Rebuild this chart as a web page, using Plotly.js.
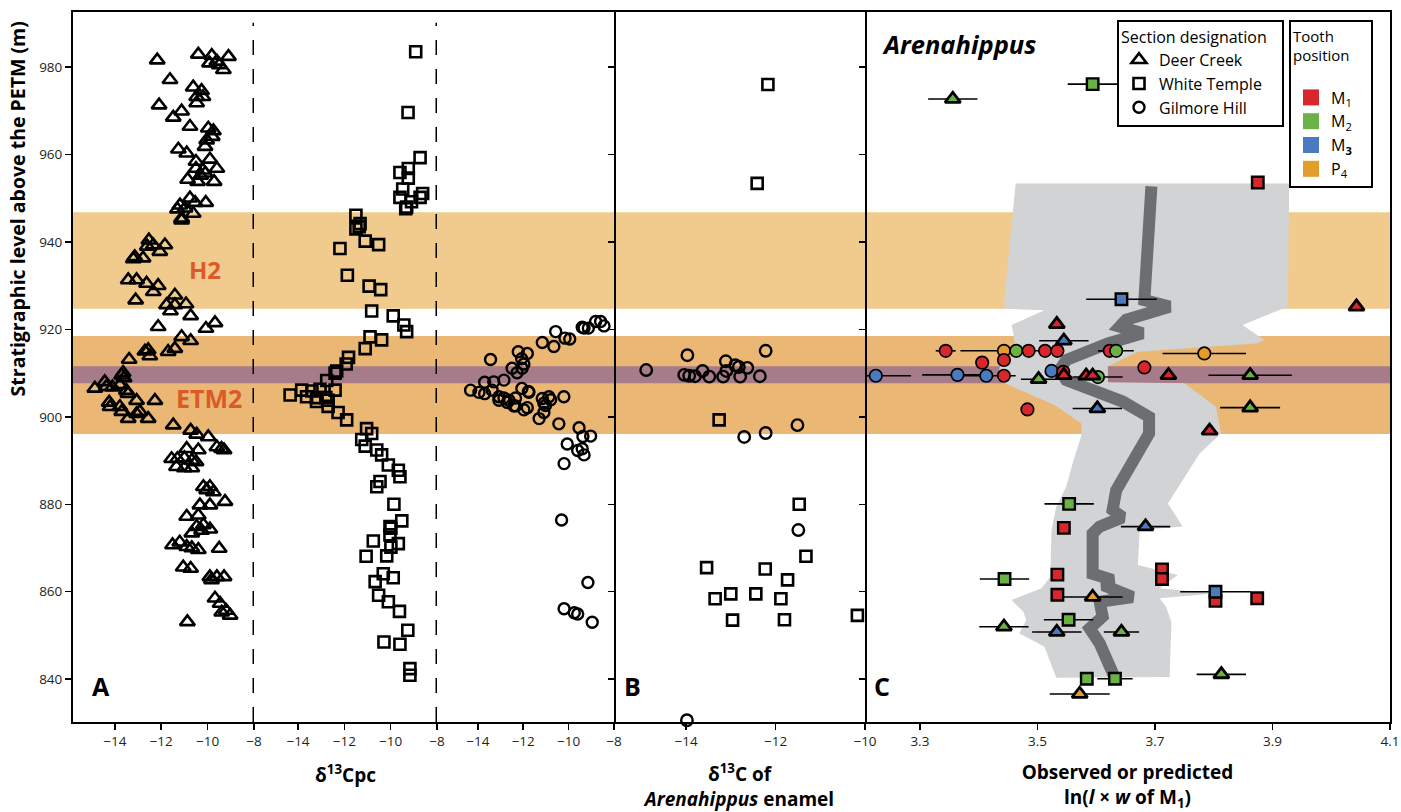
<!DOCTYPE html>
<html><head><meta charset="utf-8">
<script src="https://cdn.plot.ly/plotly-3.0.1.min.js"></script>
<style>html,body{margin:0;padding:0;background:#fff}</style>
</head><body><div id="chart" style="width:1401px;height:812px"></div>
<script>
// ---------- DATA ----------
const yTicks = [840, 860, 880, 900, 920, 940, 960, 980];
const aTicks = [-14, -12, -10, -8];
const bTicks = [-14, -12, -10];
const cTicks = [3.3, 3.5, 3.7, 3.9, 4.1];

// Event bands (m)
const bandNames  = ['H2', 'ETM2', 'ETM2 core'];
const bandBottom = [924.7, 896.1, 907.7];
const bandTop    = [946.8, 918.5, 911.6];

// Panel A: δ13C of paleosol carbonate, Deer Creek (triangles)
const dcX = [-12.17,-10.40,-9.82,-9.92,-9.60,-9.10,-9.32,-9.50,-11.62,-10.62,
  -10.26,-10.47,-10.20,-10.47,-12.09,-11.12,-11.48,-10.76,-9.97,-9.75,
  -9.80,-10.04,-10.11,-11.26,-10.90,-9.90,-10.50,-9.60,-10.50,-10.20,
  -10.10,-10.30,-10.86,-10.43,-9.72,-10.76,-10.54,-10.08,-11.19,-10.97,
  -11.30,-10.62,-11.12,-11.12,-12.53,-12.34,-11.84,-12.60,-12.06,-13.14,
  -12.78,-13.20,-13.42,-13.06,-12.63,-12.13,-12.34,-13.10,-11.41,-11.77,
  -11.41,-11.60,-10.93,-10.73,-12.13,-10.07,-9.68,-11.12,-10.73,-11.41,
  -11.70,-12.56,-12.70,-12.49,-13.38,-13.64,-13.70,-14.43,-14.86,-14.10,
  -13.60,-13.50,-14.36,-13.78,-13.43,-14.24,-13.78,-13.06,-12.27,-14.20,
  -13.42,-12.92,-12.56,-13.70,-13.06,-11.48,-10.73,-10.47,-9.97,-9.60,
  -9.29,-9.40,-10.90,-10.40,-11.55,-11.30,-11.00,-10.68,-10.50,-11.34,
  -11.00,-10.68,-10.18,-9.90,-10.04,-9.75,-9.25,-10.33,-9.90,-10.90,
  -10.40,-10.47,-10.18,-9.90,-10.26,-10.68,-11.51,-11.20,-10.90,-10.68,
  -10.40,-9.50,-11.05,-10.73,-9.90,-9.60,-9.29,-9.83,-9.68,-9.46,
  -9.39,-9.03,-9.20,-10.87];
const dcY = [981.6,982.9,982.6,980.9,981.3,982.4,979.4,980.5,977.1,975.4,
  974.6,973.2,973.2,971.8,971.3,969.9,968.5,966.4,966.0,965.4,
  964.1,963.3,961.8,961.2,960.3,958.9,958.4,956.8,956.8,956.4,
  955.7,955.2,954.3,953.8,953.8,950.0,949.0,949.0,948.4,947.7,
  947.5,946.5,945.4,945.0,940.4,939.3,939.3,939.0,937.8,936.6,
  936.3,936.1,931.3,931.3,930.5,930.0,928.6,926.7,927.8,925.6,
  925.6,924.2,925.8,923.1,920.6,920.2,921.5,918.3,917.4,915.6,
  914.9,915.3,915.0,913.9,913.1,910.1,909.5,908.0,906.5,906.8,
  908.9,906.0,906.9,907.3,905.3,903.3,902.3,903.7,903.7,902.3,
  899.6,901.2,899.6,901.2,900.7,898.1,896.9,896.0,895.4,893.1,
  892.4,892.7,892.7,892.4,890.4,890.4,890.6,890.0,889.7,888.6,
  888.3,888.3,884.0,884.0,883.3,882.8,880.6,879.8,879.8,877.2,
  877.5,874.9,875.3,874.3,874.0,873.4,870.7,871.3,870.3,870.0,
  869.6,869.9,865.6,865.3,863.4,863.4,863.4,862.7,858.5,857.3,
  855.3,854.6,855.7,853.1];

// Panel A: White Temple (squares)
const wtX = [-8.92,-9.25,-8.73,-9.24,-9.60,-9.24,-9.48,-9.60,-8.62,-8.73,
  -9.10,-9.31,-9.35,-11.50,-11.32,-11.36,-11.50,-11.10,-10.52,-12.19,
  -11.87,-10.93,-10.43,-10.82,-9.89,-9.43,-9.31,-10.89,-10.39,-11.10,
  -11.82,-11.92,-12.33,-12.40,-12.76,-13.05,-12.40,-14.34,-13.84,-13.40,
  -13.63,-13.20,-12.80,-13.20,-12.70,-12.70,-12.27,-11.90,-11.04,-10.82,
  -11.25,-11.10,-10.60,-10.39,-10.10,-9.67,-9.60,-10.46,-10.60,-9.86,
  -9.52,-10.03,-9.99,-10.03,-10.75,-9.67,-9.99,-11.06,-10.17,-10.32,
  -9.89,-10.67,-10.52,-10.10,-9.62,-9.26,-10.29,-9.60,-9.17,-9.17];
const wtY = [983.5,969.6,959.3,956.8,955.9,954.6,952.1,950.2,951.1,950.2,
  949.2,948.0,947.6,946.1,944.2,943.5,943.0,940.2,939.4,938.5,
  932.4,929.9,929.1,924.2,923.1,921.0,919.5,918.3,917.6,915.6,
  913.6,912.1,910.5,910.0,908.3,906.3,906.1,905.0,906.1,905.9,
  904.6,904.4,904.4,903.5,903.8,902.4,901.0,899.3,897.3,896.2,
  894.8,893.3,892.4,891.3,889.0,887.8,886.3,885.2,884.0,880.0,
  876.2,874.9,874.5,873.0,871.6,871.0,870.2,868.1,868.2,864.1,
  863.2,862.3,859.2,857.7,855.5,851.2,848.5,848.0,842.4,840.9];

// Panel A: Gilmore Hill (circles)
const ghX = [-8.81,-8.59,-8.44,-9.32,-9.13,-9.40,-10.57,-10.16,-9.95,-11.16,
  -10.65,-12.22,-11.82,-13.44,-12.07,-11.97,-12.05,-12.49,-12.27,-12.85,
  -13.30,-13.70,-14.32,-13.95,-13.37,-12.06,-11.77,-13.07,-12.85,-12.63,
  -12.34,-11.16,-10.87,-10.21,-11.82,-11.02,-12.34,-13.70,-13.07,-12.70,
  -12.41,-11.97,-11.75,-11.09,-10.79,-11.09,-11.30,-10.43,-9.54,-9.03,
  -9.37,-10.06,-9.60,-9.32,-9.40,-10.20,-10.31,-9.15,-10.20,-9.75,
  -9.60,-8.96];
const ghY = [921.8,921.8,920.8,920.3,920.3,920.5,919.5,918.0,917.8,917.0,
  916.1,914.9,914.5,913.1,913.3,912.1,911.1,911.1,910.1,908.4,
  908.0,907.9,906.1,905.6,906.1,906.5,905.8,904.6,904.3,903.8,
  904.3,904.2,904.6,904.6,902.1,902.6,902.5,905.3,903.8,903.3,
  902.5,901.6,905.6,903.1,903.9,901.0,899.6,898.4,897.5,895.6,
  895.5,893.8,892.3,891.3,892.7,889.3,876.4,862.1,856.1,855.2,
  854.9,853.0];

// Panel B: δ13C of Arenahippus enamel
const bSqX = [-12.17,-12.41,-13.26,-11.47,-11.32,-13.54,-12.23,-11.73,-13.35,-13.00,-12.44,-11.88,-12.96,-11.80,-10.17];
const bSqY = [976.0,953.4,899.3,880.0,868.1,865.5,865.2,862.7,858.4,859.5,859.5,858.4,853.5,853.6,854.6];
const bCiX = [-14.89,-13.97,-12.22,-14.04,-13.93,-13.80,-13.63,-13.48,-13.17,-13.11,-13.10,-12.90,-12.82,-12.63,-12.79,-12.35,-12.70,-12.22,-11.51,-11.49,-13.98];
const bCiY = [910.7,914.1,915.1,909.6,909.4,909.3,910.5,909.2,909.2,912.7,910.5,911.8,911.4,911.2,909.2,909.3,895.4,896.3,898.1,874.1,830.6];

// Panel C: ln(l x w of M1), observed
const toothNames = ['M1', 'M2', 'M3', 'P4'];
const toothLabels = ['M<sub>1</sub>', 'M<sub>2</sub>', 'M<sub><b>3</b></sub>', 'P<sub>4</sub>'];
const toothColors = ['#D7262C', '#6AB245', '#4A7BC0', '#E49C2A'];

const cTriX = [3.356,3.533,3.545,3.545,3.502,3.583,3.594,3.602,4.043,3.723,3.862,3.862,3.793,3.684,3.594,3.443,3.533,3.643,3.813,3.572];
const cTriY = [972.7,921.2,917.4,909.5,908.6,909.4,909.4,901.9,925.2,909.5,909.5,902.1,896.8,874.9,858.8,852.0,850.8,850.8,841.1,836.6];
const cTriTooth = ['M2','M1','M3','M1','M2','M1','M1','M3','M1','M1','M2','M2','M1','M3','P4','M2','M3','M2','M2','P4'];
const cTriErr = [0.042,0,0.042,0,0.03,0,0,0.042,0,0,0.071,0.051,0,0.042,0.051,0.042,0.042,0.03,0.042,0.051];

const cSqX = [3.594,3.643,3.875,3.554,3.545,3.444,3.534,3.534,3.712,3.712,3.803,3.803,3.874,3.553,3.584,3.632];
const cSqY = [976.1,926.9,953.6,880.1,874.6,862.9,863.9,859.3,865.1,862.9,857.9,860.0,858.5,853.6,840.1,840.1];
const cSqTooth = ['M2','M3','M1','M2','M1','M2','M1','M1','M1','M1','M1','M3','M1','M2','M2','M2'];
const cSqErr = [0.0425,0.06,0,0.042,0,0.042,0,0,0,0,0,0.06,0,0.042,0,0.03];

const cCiX = [3.344,3.443,3.464,3.485,3.513,3.534,3.623,3.634,3.406,3.443,3.225,3.364,3.413,3.443,3.524,3.544,3.603,3.784,3.682,3.483];
const cCiY = [915.1,915.1,915.1,915.1,915.1,915.1,915.1,915.1,912.4,913.0,909.4,909.6,909.4,909.4,910.5,910.3,909.1,914.5,911.3,901.7];
const cCiTooth = ['M1','P4','M2','M1','M1','M1','M1','M2','M1','M1','M3','M3','M3','M1','M3','M1','M2','P4','M1','M1'];
const cCiErr = [0.017,0.074,0,0,0,0,0.02,0.03,0,0,0.06,0.06,0.05,0,0,0,0.042,0.071,0,0];

// Panel C: predicted envelope (left and right edges, top to bottom) and predicted trend
const envLoX = [3.463,3.444,3.444,3.512,3.456,3.459,3.464,3.436,3.432,3.529,3.575,3.575,3.560,3.549,3.532,3.524,3.522,3.507,3.456,3.476,3.481,3.469,3.512,3.532];
const envLoY = [953.4,927.5,924.7,924.4,921.0,919.1,914.5,911.5,908.4,902.7,898.5,895.8,889.4,884.0,879.4,874.1,863.4,860.8,858.1,855.4,853.5,850.5,847.4,840.3];
const envHiX = [3.9285,3.926,3.914,3.849,3.886,3.872,3.671,3.620,3.620,3.750,3.804,3.8125,3.776,3.722,3.747,3.674,3.671,3.739,3.708,3.801,3.708,3.719,3.728,3.725];
const envHiY = [953.4,925.2,924.4,921.0,917.6,916.8,914.9,911.6,907.9,907.7,902.3,896.2,891.6,880.2,874.9,874.1,866.1,863.8,860.8,859.6,858.5,856.5,853.1,840.5];
const trendX = [3.694,3.682,3.725,3.651,3.640,3.679,3.620,3.572,3.549,3.538,3.549,3.594,3.645,3.690,3.690,3.634,3.628,3.645,3.606,3.594,3.594,3.628,3.612,3.662,3.606,3.611,3.589,3.606,3.631];
const trendY = [952.7,926.7,925.2,922.2,920.6,919.1,916.8,914.5,913.0,910.7,908.4,906.1,903.5,900.0,896.2,883.2,878.7,877.0,874.9,873.3,864.1,862.7,861.5,858.8,857.7,854.3,851.6,848.2,840.5];

// ---------- CHART ----------
const FONT = 'Open Sans, Noto Sans, sans-serif';
const yRange = [830.2, 992.6];
const W = 1317; // plot width px
const dom = (a, b) => [a / W, b / W];
const col = t => toothColors[toothNames.indexOf(t)];

const traces = [];
// predicted envelope
traces.push({type:'scatter', mode:'lines', x: envLoX.concat(envHiX.slice().reverse()), y: envLoY.concat(envHiY.slice().reverse()),
  fill:'toself', fillcolor:'#D1D3D4', line:{width:0, color:'#D1D3D4'}, xaxis:'x5', yaxis:'y', showlegend:false, hoverinfo:'skip'});
traces.push({type:'scatter', mode:'lines', x: trendX, y: trendY, line:{color:'#6D6E71', width:12}, xaxis:'x5', yaxis:'y', showlegend:false, hoverinfo:'skip'});

// panel A
traces.push({type:'scatter', mode:'markers', name:'Deer Creek', x: dcX, y: dcY, xaxis:'x', yaxis:'y',
  marker:{symbol:'triangle-up-open', size:13, color:'black', line:{width:2.6, color:'black'}}, legend:'legend'});
traces.push({type:'scatter', mode:'markers', name:'White Temple', x: wtX, y: wtY, xaxis:'x2', yaxis:'y',
  marker:{symbol:'square-open', size:11, color:'black', line:{width:2.6, color:'black'}}, legend:'legend'});
traces.push({type:'scatter', mode:'markers', name:'Gilmore Hill', x: ghX, y: ghY, xaxis:'x3', yaxis:'y',
  marker:{symbol:'circle-open', size:11, color:'black', line:{width:2.4, color:'black'}}, legend:'legend'});

// panel B
traces.push({type:'scatter', mode:'markers', x: bSqX, y: bSqY, xaxis:'x4', yaxis:'y', showlegend:false,
  marker:{symbol:'square-open', size:11, color:'black', line:{width:2.6, color:'black'}}});
traces.push({type:'scatter', mode:'markers', x: bCiX, y: bCiY, xaxis:'x4', yaxis:'y', showlegend:false, cliponaxis:false,
  marker:{symbol:'circle-open', size:11.5, color:'black', line:{width:2.4, color:'black'}}});

// panel C
const errStyle = arr => ({type:'data', array: arr, symmetric:true, color:'black', thickness:1.6, width:0});
traces.push({type:'scatter', mode:'markers', x: cSqX, y: cSqY, xaxis:'x5', yaxis:'y', showlegend:false,
  error_x: errStyle(cSqErr), marker:{symbol:'square', size:11.5, color: cSqTooth.map(col), line:{width:2.4, color:'black'}}});
traces.push({type:'scatter', mode:'markers', x: cCiX, y: cCiY, xaxis:'x5', yaxis:'y', showlegend:false,
  error_x: errStyle(cCiErr), marker:{symbol:'circle', size:12.5, color: cCiTooth.map(col), line:{width:1.7, color:'black'}}});
traces.push({type:'scatter', mode:'markers', x: cTriX, y: cTriY, xaxis:'x5', yaxis:'y', showlegend:false,
  error_x: errStyle(cTriErr), marker:{symbol:'triangle-up', size:13.5, color: cTriTooth.map(col), line:{width:2.8, color:'black'}}});

// tooth-position legend entries
toothNames.forEach((t, i) => traces.push({type:'scatter', mode:'markers', x:[null], y:[null], xaxis:'x5', yaxis:'y',
  name: toothLabels[i], legend:'legend2', marker:{symbol:'square', size:16, color: toothColors[i], line:{width:0}}}));

// helper traces for right-side tick axes
traces.push({type:'scatter', x:[null], y:[null], xaxis:'x3', yaxis:'y2', showlegend:false, hoverinfo:'skip'});
traces.push({type:'scatter', x:[null], y:[null], xaxis:'x4', yaxis:'y3', showlegend:false, hoverinfo:'skip'});
traces.push({type:'scatter', x:[null], y:[null], xaxis:'x5', yaxis:'y4', showlegend:false, hoverinfo:'skip'});

const xBase = {showline:true, mirror:true, linecolor:'black', linewidth:2, ticks:'outside', ticklen:6, tickwidth:1.5,
  tickcolor:'black', showgrid:false, zeroline:false, anchor:'y', tickfont:{size:13.5, color:'#231F20'}, fixedrange:true};
const titleFont = {size:19, color:'black', weight:700, family: FONT};

const layout = {
  width:1401, height:812,
  margin:{l:73, r:11, t:12, b:90},
  paper_bgcolor:'white', plot_bgcolor:'rgba(0,0,0,0)',
  font:{family: FONT, color:'black'},
  xaxis:  Object.assign({}, xBase, {domain: dom(0, 181), range:[-15.8, -8], tickvals: aTicks}),
  xaxis2: Object.assign({}, xBase, {domain: dom(181, 364), range:[-15.9, -8], tickvals: aTicks,
    title:{text:'δ<sup>13</sup>Cpc', font: titleFont, standoff: 19}}),
  xaxis3: Object.assign({}, xBase, {domain: dom(364, 541), range:[-15.8, -8], tickvals: aTicks}),
  xaxis4: Object.assign({}, xBase, {domain: dom(541, 792), range:[-15.61, -10], tickvals: bTicks,
    title:{text:'δ<sup>13</sup>C of<br><i>Arenahippus</i> enamel', font: titleFont, standoff: 19}}),
  xaxis5: Object.assign({}, xBase, {domain: dom(792, 1317), range:[3.2066, 4.1], tickvals: cTicks, ticktext: cTicks.map(v => v.toFixed(1)),
    title:{text:'Observed or predicted<br>ln(<i>l</i> × <i>w</i> of M<sub>1</sub>)', font: titleFont, standoff: 19}}),
  yaxis: {domain:[0,1], anchor:'x', range: yRange, tickvals: yTicks, showline:true, linecolor:'black', linewidth:2,
    ticks:'outside', ticklen:6, tickwidth:1.5, tickcolor:'black', showgrid:false, zeroline:false,
    tickfont:{size:13.5, color:'#231F20'}, fixedrange:true},
  yaxis2: {overlaying:'y', anchor:'x3', side:'right', range: yRange, tickvals: yTicks, showticklabels:false,
    showline:true, linecolor:'black', linewidth:2, ticks:'inside', ticklen:6, tickwidth:1.5, tickcolor:'black',
    showgrid:false, zeroline:false, fixedrange:true},
  yaxis3: {overlaying:'y', anchor:'x4', side:'right', range: yRange, tickvals: yTicks, showticklabels:false,
    showline:true, linecolor:'black', linewidth:2, ticks:'inside', ticklen:6, tickwidth:1.5, tickcolor:'black',
    showgrid:false, zeroline:false, fixedrange:true},
  yaxis4: {overlaying:'y', anchor:'x5', side:'right', range: yRange, showticklabels:false, ticks:'',
    showline:true, linecolor:'black', linewidth:2, showgrid:false, zeroline:false, fixedrange:true},
  shapes: bandNames.map((n, i) => ({type:'rect', xref:'paper', x0:0, x1:1, yref:'y', y0: bandBottom[i], y1: bandTop[i],
      fillcolor: ['#F1CB8D', '#EAB775', '#A67B8A'][i], line:{width:0}, layer:'below'}))
    .concat([
      {type:'line', xref:'x', x0:-8, x1:-8, yref:'paper', y0:0, y1:0.985, line:{color:'black', width:3, dash:'15px,14px'}, layer:'above'},
      {type:'line', xref:'x2', x0:-8, x1:-8, yref:'paper', y0:0, y1:0.985, line:{color:'black', width:3, dash:'15px,14px'}, layer:'above'}
    ]),
  annotations: [
    {text:'<b>Stratigraphic level above the PETM (m)</b>', xref:'paper', yref:'paper', x:-0.0425, y:0.722, textangle:-90,
      showarrow:false, font:{size:19.5, color:'black'}, xanchor:'center', yanchor:'middle'},
    {text:'<b>H2</b>', xref:'x', yref:'y', x:-10.11, y:933.6, showarrow:false, font:{size:24, color:'#DD5A28'}},
    {text:'<b>ETM2</b>', xref:'x', yref:'y', x:-9.95, y:904.3, showarrow:false, font:{size:25, color:'#DD5A28'}},
    {text:'<b>A</b>', xref:'paper', yref:'paper', x:(90-73)/W, y:(722-705)/710, showarrow:false, font:{size:25, color:'black'}},
    {text:'<b>B</b>', xref:'paper', yref:'paper', x:(632-73)/W, y:(722-705)/710, showarrow:false, font:{size:25, color:'black'}},
    {text:'<b>C</b>', xref:'paper', yref:'paper', x:(882-73)/W, y:(722-705)/710, showarrow:false, font:{size:25, color:'black'}},
    {text:'<b><i>Arenahippus</i></b>', xref:'paper', yref:'paper', x:(880-73)/W, y:(722-44)/710, xanchor:'left', yanchor:'middle',
      showarrow:false, font:{size:25.5, color:'black'}}
  ],
  legend: {x:(1117-73)/W, y:(722-20)/710, xanchor:'left', yanchor:'top', bgcolor:'white', bordercolor:'black', borderwidth:2,
    font:{size:16, color:'black'}, title:{text:'Section designation&nbsp;&nbsp;&nbsp;', font:{size:16, color:'black'}}, tracegroupgap:0},
  legend2: {x:(1289-73)/W, y:(722-20)/710, xanchor:'left', yanchor:'top', bgcolor:'white', bordercolor:'black', borderwidth:2,
    font:{size:16, color:'black'}, title:{text:'Tooth<br>position&nbsp;&nbsp;&nbsp;&nbsp;&nbsp;<br> ', font:{size:15, color:'black'}}, tracegroupgap:0},
  hovermode:false
};

Plotly.newPlot('chart', traces, layout, {displayModeBar:false, staticPlot:true});
</script></body></html>
